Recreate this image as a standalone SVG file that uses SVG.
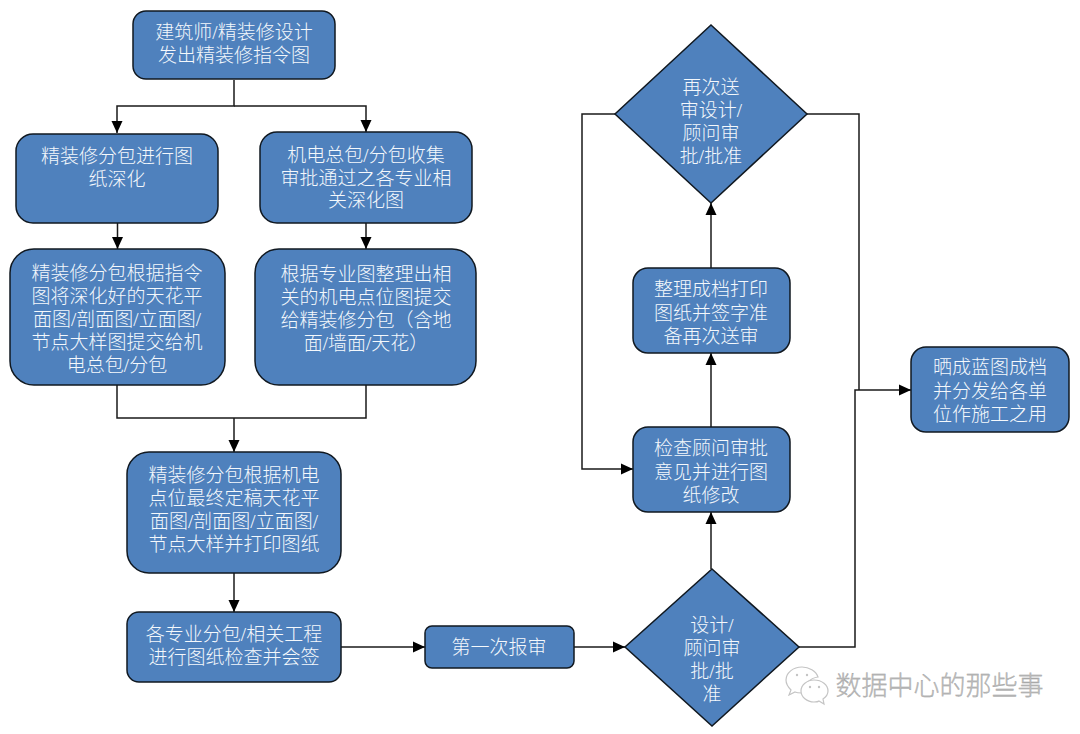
<svg xmlns="http://www.w3.org/2000/svg" width="1080" height="734" viewBox="0 0 1080 734">
<style>
.n{fill:#4f81bd;stroke:#101820;stroke-width:1.5}
.t{fill:#f4f8fc;font-family:"Liberation Serif","Noto Sans CJK SC",sans-serif;font-size:19px;text-anchor:middle;font-weight:300}
.c{fill:none;stroke:#1a1a1a;stroke-width:1.5}
.w{fill:#fff;stroke:#c4c4c4;stroke-width:1.2}
.e{fill:#c4c4c4}
</style>
<defs><marker id="a" markerUnits="userSpaceOnUse" markerWidth="12" markerHeight="12" refX="12" refY="6" orient="auto"><path d="M0 .5L12 6L0 11.500z" fill="#000"/></marker></defs>
<rect width="1080" height="734" fill="#fff"/>
<g id="connectors">
<path class="c" d="M234 80V106H117V133" marker-end="url(#a)"/>
<path class="c" d="M234 106H366V132" marker-end="url(#a)"/>
<path class="c" d="M117.500 223V249" marker-end="url(#a)"/>
<path class="c" d="M366 223V249" marker-end="url(#a)"/>
<path class="c" d="M117 385V418H366V385"/>
<path class="c" d="M234 418V452" marker-end="url(#a)"/>
<path class="c" d="M234 573V612" marker-end="url(#a)"/>
<path class="c" d="M341 647H425" marker-end="url(#a)"/>
<path class="c" d="M574 647H625" marker-end="url(#a)"/>
<path class="c" d="M711 569V512" marker-end="url(#a)"/>
<path class="c" d="M711 427V353" marker-end="url(#a)"/>
<path class="c" d="M711 268V203" marker-end="url(#a)"/>
<path class="c" d="M615 114H582V469H633" marker-end="url(#a)"/>
<path class="c" d="M807 114H859V390" />
<path class="c" d="M799 647H855V390H911" marker-end="url(#a)"/>
</g>
<g id="n1"><rect class="n" x="133" y="11" width="202" height="68" rx="13"/><text class="t"><tspan x="234" y="39">建筑师/精装修设计</tspan><tspan x="234" y="62">发出精装修指令图</tspan></text></g>
<g id="n2"><rect class="n" x="16" y="134" width="202" height="89" rx="17"/><text class="t"><tspan x="117" y="163">精装修分包进行图</tspan><tspan x="117" y="186">纸深化</tspan></text></g>
<g id="n3"><rect class="n" x="260" y="132" width="212" height="91" rx="17"/><text class="t"><tspan x="366" y="162">机电总包/分包收集</tspan><tspan x="366" y="185">审批通过之各专业相</tspan><tspan x="366" y="207">关深化图</tspan></text></g>
<g id="n4"><rect class="n" x="10" y="249" width="215" height="136" rx="24"/><text class="t"><tspan x="117" y="280">精装修分包根据指令</tspan><tspan x="117" y="303">图将深化好的天花平</tspan><tspan x="117" y="326">面图/剖面图/立面图/</tspan><tspan x="117" y="349">节点大样图提交给机</tspan><tspan x="117" y="372">电总包/分包</tspan></text></g>
<g id="n5"><rect class="n" x="255" y="249" width="221" height="136" rx="24"/><text class="t"><tspan x="366" y="281">根据专业图整理出相</tspan><tspan x="366" y="304">关的机电点位图提交</tspan><tspan x="366" y="327">给精装修分包（含地</tspan><tspan x="366" y="350">面/墙面/天花）</tspan></text></g>
<g id="n6"><rect class="n" x="127" y="452" width="214" height="121" rx="22"/><text class="t"><tspan x="234" y="482">精装修分包根据机电</tspan><tspan x="234" y="505">点位最终定稿天花平</tspan><tspan x="234" y="528">面图/剖面图/立面图/</tspan><tspan x="234" y="551">节点大样并打印图纸</tspan></text></g>
<g id="n7"><rect class="n" x="127" y="612" width="214" height="70" rx="12"/><text class="t"><tspan x="234" y="641">各专业分包/相关工程</tspan><tspan x="234" y="664">进行图纸检查并会签</tspan></text></g>
<g id="n8"><rect class="n" x="425" y="626" width="149" height="42" rx="7"/><text class="t" x="499" y="654">第一次报审</text></g>
<g id="n9"><path class="n" d="M712 569L799 647L712 726L625 647z"/><text class="t"><tspan x="712" y="632">设计/</tspan><tspan x="712" y="655">顾问审</tspan><tspan x="712" y="678">批/批</tspan><tspan x="712" y="701">准</tspan></text></g>
<g id="n10"><rect class="n" x="633" y="427" width="157" height="85" rx="15"/><text class="t"><tspan x="711" y="455">检查顾问审批</tspan><tspan x="711" y="479">意见并进行图</tspan><tspan x="711" y="502">纸修改</tspan></text></g>
<g id="n11"><rect class="n" x="633" y="268" width="157" height="85" rx="15"/><text class="t"><tspan x="711" y="296">整理成档打印</tspan><tspan x="711" y="320">图纸并签字准</tspan><tspan x="711" y="343">备再次送审</tspan></text></g>
<g id="n12"><path class="n" d="M711 25L807 114L711 203L615 114z"/><text class="t"><tspan x="711" y="94">再次送</tspan><tspan x="711" y="117">审设计/</tspan><tspan x="711" y="140">顾问审</tspan><tspan x="711" y="163">批/批准</tspan></text></g>
<g id="n13"><rect class="n" x="911" y="347" width="158" height="85" rx="15"/><text class="t"><tspan x="990" y="374">晒成蓝图成档</tspan><tspan x="990" y="398">并分发给各单</tspan><tspan x="990" y="421">位作施工之用</tspan></text></g>
<g id="watermark">
<path class="w" d="M802 667c-9 0-16 6-16 13 0 4 2 7 5 10l-2 5 6-3c2 1 4 1 7 1h3c-1-9 5-15 13-16-2-6-9-10-16-10z"/>
<path class="w" d="M814 680c-7 0-13 5-13 11s6 11 13 11c2 0 4 0 5-1l5 3-1-5c3-2 5-5 5-8 0-6-6-11-14-11z"/>
<circle class="e" cx="797" cy="675" r="1.200"/><circle class="e" cx="807" cy="675" r="1.200"/><circle class="e" cx="810" cy="687" r="1.200"/><circle class="e" cx="819" cy="687" r="1.200"/>
<text x="939.500" y="695" style="font-family:'Noto Sans CJK SC',sans-serif;font-size:26px;fill:#bdbdbd;stroke:#999;stroke-width:.3;text-anchor:middle;font-weight:300">数据中心的那些事</text>
</g>
</svg>
